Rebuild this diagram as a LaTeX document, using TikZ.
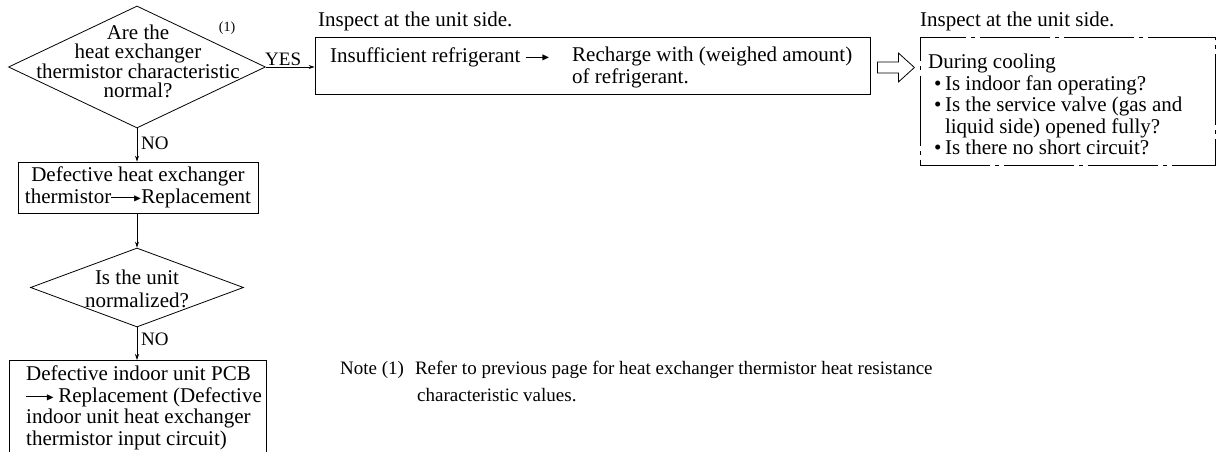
\documentclass[tikz,border=0pt]{standalone}
\usepackage{fontspec}
\setmainfont{Liberation Serif}
\usepackage{amssymb}
\usetikzlibrary{shapes.geometric,arrows.meta,calc}
\newcommand\tarr[1]{\mbox{\rule[0.25em]{#1}{0.8pt}\kern-3pt\raisebox{0.25em}{\raisebox{-0.5\height}{\scalebox{0.5}{$\blacktriangleright$}}}}}
\begin{document}
\begin{tikzpicture}[x=1pt,y=-1pt,
  box/.style={draw, rectangle, line width=0.8pt, inner sep=0pt},
  dia/.style={draw, diamond, line width=0.8pt, inner sep=0pt},
  conn/.style={line width=0.8pt, -{Stealth[length=6pt,width=4pt]}},
  txt/.style={font=\fontsize{21}{21.5}\selectfont, inner sep=0pt, align=center},
  lbl/.style={font=\fontsize{19}{19}\selectfont, inner sep=0pt},
  dashdot/.style={dash pattern=on 70pt off 5pt on 4pt off 5pt}]
\useasboundingbox (0,0) rectangle (1217,452);
\clip (0,0) rectangle (1217,452);

% decision 1
\node[dia, minimum width=257pt, minimum height=122pt] (d1) at (137,67) {};
\node[txt, font=\fontsize{21}{19}\selectfont] (d1t) at (138,61) {Are the\\heat exchanger\\thermistor characteristic\\normal?};
\node[font=\fontsize{14}{14}\selectfont, inner sep=0pt] (n1) at (227,28) {(1)};

% box 1
\node[box, minimum width=555pt, minimum height=57pt] (b1) at (592.5,65.5) {};
\node[txt, anchor=base west] (lab1) at (318,27) {Inspect at the unit side.};
\node[txt, anchor=base west] (ins) at (330,63) {Insufficient refrigerant \tarr{19pt}};
\node[txt, align=left, anchor=north west] (rech) at (572,47) {Recharge with (weighed amount)\\of refrigerant.};

% hollow arrow
\coordinate (ha) at ($(b1.east)+(7,2)$);
\draw[line width=0.8pt] (ha) ++(0,-5.5) -- ++(21,0) -- ++(0,-9) -- ++(16,14.5) -- ++(-16,14.5) -- ++(0,-9) -- ++(-21,0) -- cycle;

% dashed box
\node[box, dashdot, minimum width=295pt, minimum height=128pt] (b4) at (1067.5,101.5) {};
\node[txt, anchor=base west] (lab2) at (920,27) {Inspect at the unit side.};
\node[txt, align=left, anchor=north west] (b4t) at (928,54) {During cooling\\
\hspace*{6pt}\textbullet\,Is indoor fan operating?\\
\hspace*{6pt}\textbullet\,Is the service valve (gas and\\
\hspace*{6pt}\phantom{\textbullet\,}liquid side) opened fully?\\
\hspace*{6pt}\textbullet\,Is there no short circuit?};

% box 2
\node[box, txt, minimum width=240pt, minimum height=51pt] (b2) at (138,187.5) {Defective heat exchanger\\thermistor\tarr{25pt}Replacement};

% decision 2
\node[dia, minimum width=213pt, minimum height=79pt] (d2) at (137,287.5) {};
\node[txt, font=\fontsize{21}{23}\selectfont] (d2t) at (137,289) {Is the unit\\normalized?};

% box 3
\node[box, minimum width=257pt, minimum height=110pt, anchor=north west] (b3) at (9,360) {};
\node[txt, align=left, anchor=north west] (b3t) at (26,366) {Defective indoor unit PCB\\
\tarr{23pt}\kern4pt Replacement (Defective\\
indoor unit heat exchanger\\
thermistor input circuit)};

% connectors
\draw[conn] (d1.east) -- (d1.east -| b1.west);
\node[lbl, anchor=base west] (yes) at (265,66) {YES};
\draw[conn] (d1.south) -- (d1.south |- b2.north);
\node[lbl, anchor=base west] (no1) at (141,149) {NO};
\draw[conn] (d1.south |- b2.south) -- (d1.south |- d2.north);
\draw[conn] (d2.south) -- (d2.south |- b3.north);
\node[lbl, anchor=base west] (no2) at (141,345) {NO};

% note
\node[font=\fontsize{19}{27}\selectfont, inner sep=0pt, align=left, anchor=north west] (note) at (340,361) {Note (1)\hspace{11pt}Refer to previous page for heat exchanger thermistor heat resistance\\
\hspace*{77pt}characteristic values.};
\end{tikzpicture}
\end{document}
